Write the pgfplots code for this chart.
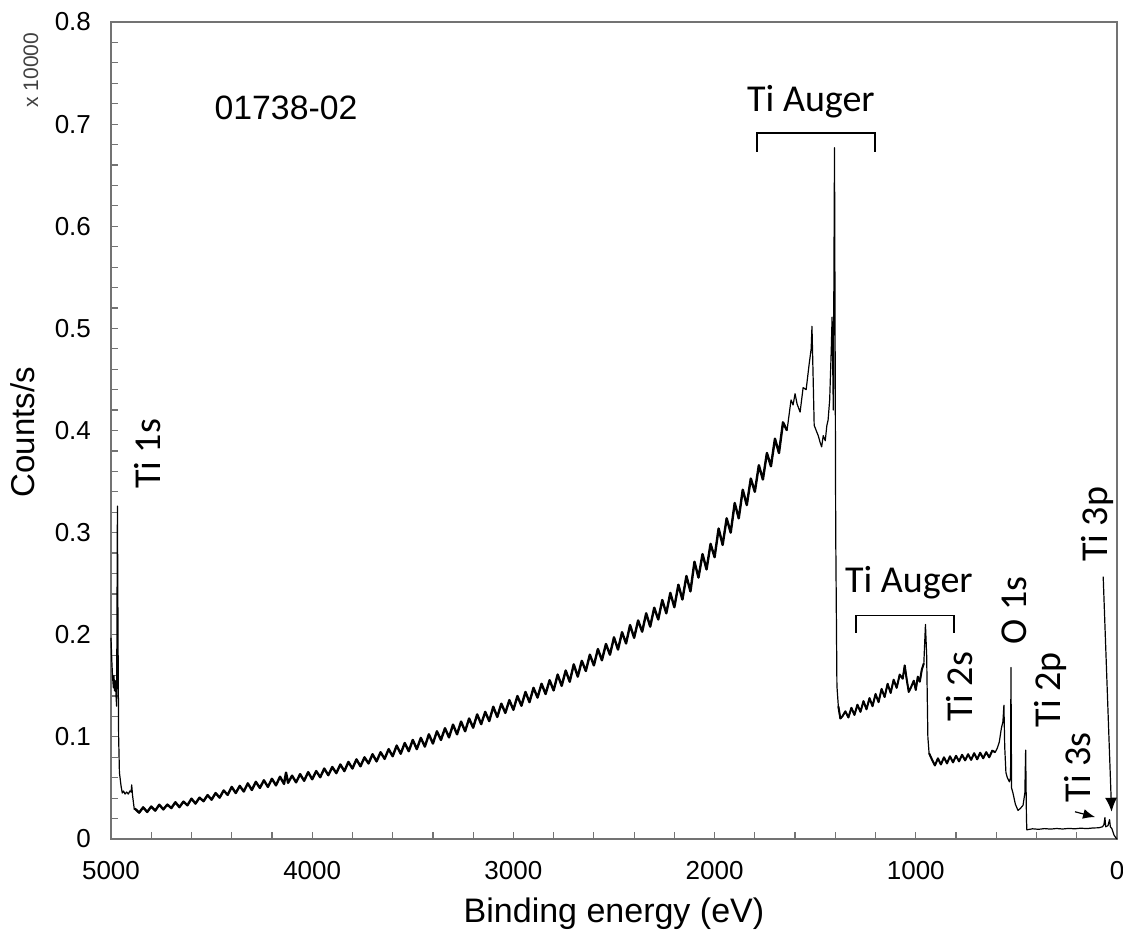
\documentclass[border=0pt]{standalone}
\usepackage{pgfplots}
\pgfplotsset{compat=1.18}
\usepackage{pgfplotstable}
\usepackage{fontspec}
\setmainfont{Liberation Sans}
\newfontfamily\calfont{Carlito}
\usetikzlibrary{arrows.meta}
\pgfplotstableread{
x y
5000 0.1970
4996 0.1750
4992 0.1580
4988 0.1480
4985 0.1600
4982 0.1450
4978 0.1550
4975 0.1400
4972 0.1300
4968 0.3260
4965 0.2000
4962 0.1000
4958 0.0650
4950 0.0520
4944 0.0450
4938 0.0470
4930 0.0440
4922 0.0460
4914 0.0440
4906 0.0470
4900 0.0460
4897 0.0530
4893 0.0430
4888 0.0350
4884 0.0290
4880 0.0295
4860 0.0258
4840 0.0310
4820 0.0265
4800 0.0318
4780 0.0278
4760 0.0336
4740 0.0290
4720 0.0337
4700 0.0303
4680 0.0360
4660 0.0312
4640 0.0366
4620 0.0330
4600 0.0395
4580 0.0347
4560 0.0405
4540 0.0370
4520 0.0430
4500 0.0385
4480 0.0450
4460 0.0405
4440 0.0475
4420 0.0432
4400 0.0510
4380 0.0450
4360 0.0520
4340 0.0465
4320 0.0545
4300 0.0480
4280 0.0560
4260 0.0500
4240 0.0575
4220 0.0510
4200 0.0590
4180 0.0525
4160 0.0610
4140 0.0540
4130 0.0650
4120 0.0550
4100 0.0620
4080 0.0555
4060 0.0635
4040 0.0570
4020 0.0655
4000 0.0585
3980 0.0665
3960 0.0605
3940 0.0690
3920 0.0625
3900 0.0705
3880 0.0645
3860 0.0730
3840 0.0665
3820 0.0755
3800 0.0690
3780 0.0780
3760 0.0712
3740 0.0800
3720 0.0740
3700 0.0830
3680 0.0760
3660 0.0850
3640 0.0785
3620 0.0880
3600 0.0810
3580 0.0915
3560 0.0835
3540 0.0940
3520 0.0860
3500 0.0970
3480 0.0880
3460 0.0990
3440 0.0905
3420 0.1025
3400 0.0935
3380 0.1055
3360 0.0970
3340 0.1085
3320 0.0995
3300 0.1120
3280 0.1025
3260 0.1150
3240 0.1055
3220 0.1180
3200 0.1090
3180 0.1220
3160 0.1125
3140 0.1245
3120 0.1155
3100 0.1295
3080 0.1195
3060 0.1325
3040 0.1235
3020 0.1360
3000 0.1265
2980 0.1400
2960 0.1305
2940 0.1440
2920 0.1340
2900 0.1480
2880 0.1385
2860 0.1520
2840 0.1420
2820 0.1555
2800 0.1455
2780 0.1610
2760 0.1500
2740 0.1650
2720 0.1540
2700 0.1710
2680 0.1590
2660 0.1745
2640 0.1645
2620 0.1805
2600 0.1700
2580 0.1860
2560 0.1750
2540 0.1910
2520 0.1805
2500 0.1975
2480 0.1855
2460 0.2025
2440 0.1915
2420 0.2095
2400 0.1970
2380 0.2140
2360 0.2030
2340 0.2210
2320 0.2080
2300 0.2265
2280 0.2150
2260 0.2340
2240 0.2210
2220 0.2410
2200 0.2270
2180 0.2490
2160 0.2345
2140 0.2575
2120 0.2425
2100 0.2715
2080 0.2560
2060 0.2790
2040 0.2640
2020 0.2890
2000 0.2760
1980 0.3040
1960 0.2880
1940 0.3140
1920 0.3000
1900 0.3290
1880 0.3140
1860 0.3420
1840 0.3270
1820 0.3530
1800 0.3400
1780 0.3660
1760 0.3520
1740 0.3780
1720 0.3650
1700 0.3920
1680 0.3780
1660 0.4080
1640 0.4000
1620 0.4300
1610 0.4250
1600 0.4360
1590 0.4260
1575 0.4180
1560 0.4420
1545 0.4400
1530 0.4650
1520 0.4800
1516 0.5020
1510 0.4500
1505 0.4050
1495 0.4000
1485 0.3950
1475 0.3880
1468 0.3840
1460 0.3950
1450 0.3900
1442 0.4050
1436 0.4100
1428 0.4300
1420 0.4800
1416 0.5110
1410 0.4200
1404 0.6770
1398 0.3000
1392 0.1500
1385 0.1300
1375 0.1180
1365 0.1200
1350 0.1250
1335 0.1190
1320 0.1285
1305 0.1215
1290 0.1315
1275 0.1245
1260 0.1350
1245 0.1270
1230 0.1380
1215 0.1300
1200 0.1420
1185 0.1340
1170 0.1470
1155 0.1390
1140 0.1520
1125 0.1430
1110 0.1560
1095 0.1480
1080 0.1610
1065 0.1570
1055 0.1700
1045 0.1560
1035 0.1440
1025 0.1480
1010 0.1550
1000 0.1460
990 0.1590
980 0.1540
970 0.1660
960 0.1720
952 0.2100
946 0.1800
940 0.1000
934 0.0840
920 0.0780
905 0.0720
890 0.0790
875 0.0730
860 0.0800
845 0.0740
830 0.0810
815 0.0750
800 0.0815
785 0.0760
770 0.0825
755 0.0770
740 0.0830
725 0.0775
710 0.0840
695 0.0780
680 0.0845
665 0.0790
650 0.0850
635 0.0800
620 0.0865
605 0.0850
595 0.0890
585 0.0950
575 0.1080
567 0.1150
562 0.1310
558 0.0900
552 0.0650
545 0.0600
535 0.0560
529 0.0600
527 0.1680
524 0.0500
517 0.0450
505 0.0340
492 0.0280
480 0.0300
467 0.0330
458 0.0450
454 0.0870
450 0.0200
448 0.0090
420 0.0100
390 0.0095
360 0.0102
330 0.0097
300 0.0103
270 0.0098
240 0.0104
210 0.0100
180 0.0106
150 0.0102
120 0.0108
90 0.0110
72 0.0120
65 0.0140
60 0.0210
56 0.0120
45 0.0130
37 0.0190
33 0.0120
25 0.0100
15 0.0040
5 0.0010
0 0.0000
}\spectrum
\begin{document}
\begin{tikzpicture}
\path[use as bounding box] (-55.5pt,-47.5pt) rectangle (506pt,419.5pt);
\begin{axis}[
  scale only axis, width=503pt, height=408.5pt,
  at={(0,0)}, anchor=south west,
  x dir=reverse,
  xmin=0, xmax=5000, ymin=0, ymax=0.8,
  xtick={0,1000,2000,3000,4000,5000},
  ytick={0,0.1,0.2,0.3,0.4,0.5,0.6,0.7,0.8},
  minor x tick num=4, minor y tick num=4,
  xtick pos=bottom, ytick pos=left,
  tick align=inside,
  major tick length=3.5pt, minor tick length=3.5pt,
  axis line style={black!55, line width=0.6pt},
  tick style={black!55, line width=0.6pt},
  scaled ticks=false,
  /pgf/number format/assume math mode=true,
  /pgf/number format/set thousands separator={},
  yticklabel style={/pgf/number format/fixed, /pgf/number format/precision=1, xshift=-6.5pt},
  xticklabel style={yshift=-7.5pt},
  ticklabel style={font=\fontsize{13}{15}\selectfont},
  xlabel={Binding energy (eV)},
  ylabel={Counts/s},
  xlabel style={font=\fontsize{17}{20}\selectfont, at={(axis description cs:0.5,-0.092)}, anchor=center},
  ylabel style={font=\fontsize{16.5}{20}\selectfont, at={(axis description cs:-0.0875,0.498)}, anchor=center},
  clip=false,
]
\addplot[black, line width=0.6pt, mark=none, line join=round] table[x=x, y=y] {\spectrum};
\addplot[black, line width=1.2pt, mark=none, line join=round, restrict x to domain=1625:4886] table[x=x, y=y] {\spectrum};
\addplot[black, line width=1.0pt, mark=none, line join=round, restrict x to domain=960:1388] table[x=x, y=y] {\spectrum};
\addplot[black, line width=1.0pt, mark=none, line join=round, restrict x to domain=600:936] table[x=x, y=y] {\spectrum};
\node[font=\fontsize{10.5}{12}\selectfont, text=black!75, rotate=90] at (axis description cs:-0.0795,0.941) {x 10000};
\node[font=\fontsize{16.9}{20}\selectfont] at (axis cs:4130,0.716) {01738-02};
\node[font=\calfont\fontsize{19}{22}\selectfont] at (axis cs:1521,0.722) {Ti Auger};
\draw[black, line width=0.7pt] (axis cs:1789,0.673) -- (axis cs:1789,0.6915) -- (axis cs:1203,0.6915) -- (axis cs:1203,0.673);
\node[font=\calfont\fontsize{19}{22}\selectfont] at (axis cs:1034,0.251) {Ti Auger};
\draw[black, line width=0.7pt] (axis cs:1297,0.202) -- (axis cs:1297,0.219) -- (axis cs:810,0.219) -- (axis cs:810,0.202);
\node[font=\calfont\fontsize{19}{22}\selectfont, rotate=90] at (axis cs:4816,0.377) {Ti 1s};
\node[font=\calfont\fontsize{19}{22}\selectfont, rotate=90] at (axis cs:780,0.149) {Ti 2s};
\node[font=\calfont\fontsize{19}{22}\selectfont, rotate=90] at (axis cs:512,0.224) {O 1s};
\node[font=\calfont\fontsize{19}{22}\selectfont, rotate=90] at (axis cs:333,0.146) {Ti 2p};
\node[font=\calfont\fontsize{19}{22}\selectfont, rotate=90] at (axis cs:194,0.070) {Ti 3s};
\node[font=\calfont\fontsize{19}{22}\selectfont, rotate=90] at (axis cs:99,0.308) {Ti 3p};
\draw[black, line width=0.6pt, -{Latex[length=6pt, width=5pt]}] (axis cs:209,0.0267) -- (axis cs:109,0.0215);
\draw[black, line width=0.6pt, -{Latex[length=7pt, width=6pt]}] (axis cs:68.6,0.257) -- (axis cs:26.8,0.0267);
\end{axis}
\end{tikzpicture}
\end{document}
